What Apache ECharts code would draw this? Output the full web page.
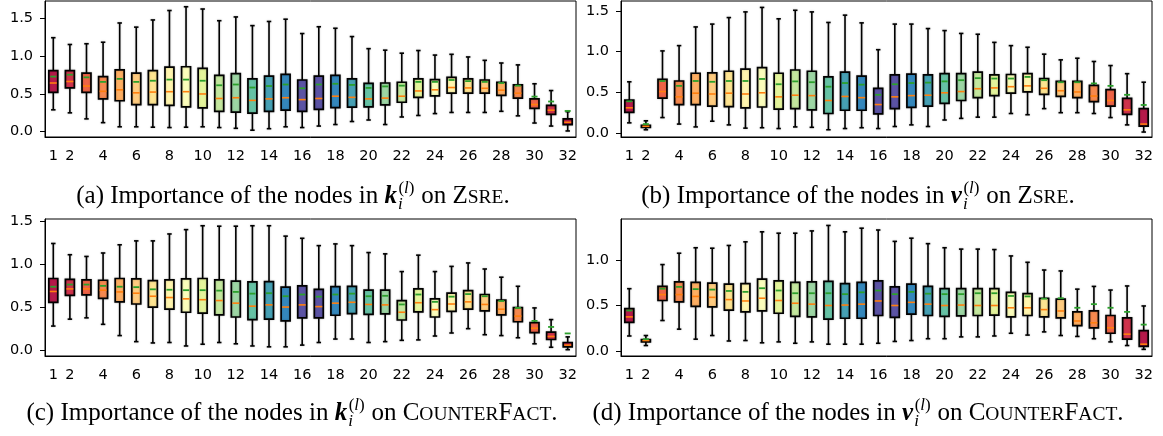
<!DOCTYPE html>
<html>
<head>
<meta charset="utf-8">
<script src="https://cdn.jsdelivr.net/npm/echarts@6.0.0/dist/echarts.min.js"></script>
<style>
  html, body { margin: 0; padding: 0; background: #fff; }
  #chart { width: 1163px; height: 436px; }
</style>
</head>
<body>
<div id="chart"></div>
<script>
// layer index on the x axis
const layers = Array.from({ length: 32 }, (_, i) => String(i + 1));
const yTicksA = [0, 0.5, 1.0, 1.5];
const yTicksD = [0, 0.5, 1.0];

// each row: [lower whisker, Q1, median, Q3, upper whisker, mean]
const kZsre = [
  [0.29, 0.52, 0.645, 0.81, 1.245, 0.73],
  [0.25, 0.58, 0.665, 0.81, 1.155, 0.755],
  [0.17, 0.52, 0.605, 0.775, 1.165, 0.72],
  [0.12, 0.435, 0.535, 0.73, 1.185, 0.66],
  [0.065, 0.41, 0.555, 0.82, 1.44, 0.70],
  [0.065, 0.36, 0.515, 0.775, 1.385, 0.66],
  [0.06, 0.36, 0.525, 0.81, 1.48, 0.675],
  [0.055, 0.35, 0.53, 0.855, 1.605, 0.69],
  [0.06, 0.33, 0.53, 0.86, 1.655, 0.69],
  [0.065, 0.315, 0.50, 0.84, 1.625, 0.675],
  [0.055, 0.27, 0.44, 0.745, 1.47, 0.615],
  [0.045, 0.26, 0.45, 0.77, 1.52, 0.625],
  [0.02, 0.245, 0.415, 0.70, 1.405, 0.585],
  [0.04, 0.27, 0.435, 0.735, 1.46, 0.605],
  [0.065, 0.285, 0.45, 0.76, 1.49, 0.625],
  [0.055, 0.27, 0.425, 0.685, 1.30, 0.575],
  [0.075, 0.295, 0.44, 0.735, 1.39, 0.625],
  [0.095, 0.32, 0.47, 0.745, 1.37, 0.635],
  [0.135, 0.325, 0.455, 0.70, 1.26, 0.62],
  [0.155, 0.33, 0.435, 0.64, 1.10, 0.58],
  [0.095, 0.355, 0.445, 0.645, 1.08, 0.60],
  [0.195, 0.39, 0.47, 0.655, 1.04, 0.61],
  [0.215, 0.455, 0.54, 0.70, 1.075, 0.66],
  [0.24, 0.475, 0.555, 0.69, 1.015, 0.66],
  [0.255, 0.51, 0.585, 0.72, 1.025, 0.685],
  [0.255, 0.51, 0.58, 0.70, 0.99, 0.67],
  [0.255, 0.51, 0.575, 0.685, 0.945, 0.66],
  [0.27, 0.48, 0.55, 0.655, 0.91, 0.645],
  [0.21, 0.445, 0.51, 0.62, 0.885, 0.61],
  [0.115, 0.31, 0.36, 0.435, 0.635, 0.465],
  [0.075, 0.23, 0.285, 0.35, 0.545, 0.40],
  [0.01, 0.095, 0.125, 0.17, 0.265, 0.275]
];

const vZsre = [
  [0.125, 0.255, 0.31, 0.405, 0.63, 0.39],
  [0.04, 0.068, 0.083, 0.095, 0.15, 0.11],
  [0.19, 0.43, 0.51, 0.66, 1.01, 0.64],
  [0.11, 0.35, 0.445, 0.64, 1.075, 0.58],
  [0.075, 0.35, 0.49, 0.735, 1.305, 0.64],
  [0.145, 0.33, 0.48, 0.74, 1.34, 0.63],
  [0.10, 0.325, 0.49, 0.76, 1.42, 0.64],
  [0.06, 0.31, 0.48, 0.785, 1.49, 0.64],
  [0.065, 0.32, 0.495, 0.805, 1.545, 0.665],
  [0.055, 0.295, 0.445, 0.735, 1.405, 0.60],
  [0.075, 0.30, 0.465, 0.775, 1.51, 0.635],
  [0.07, 0.285, 0.46, 0.76, 1.49, 0.625],
  [0.04, 0.24, 0.40, 0.69, 1.36, 0.57],
  [0.055, 0.28, 0.45, 0.75, 1.45, 0.615],
  [0.065, 0.28, 0.435, 0.70, 1.355, 0.595],
  [0.055, 0.235, 0.35, 0.55, 1.025, 0.47],
  [0.08, 0.30, 0.445, 0.715, 1.34, 0.60],
  [0.10, 0.315, 0.46, 0.725, 1.34, 0.615],
  [0.08, 0.33, 0.465, 0.715, 1.285, 0.62],
  [0.16, 0.365, 0.495, 0.73, 1.26, 0.635],
  [0.18, 0.40, 0.51, 0.73, 1.225, 0.65],
  [0.195, 0.435, 0.545, 0.75, 1.215, 0.675],
  [0.195, 0.46, 0.555, 0.715, 1.115, 0.67],
  [0.24, 0.49, 0.57, 0.72, 1.075, 0.67],
  [0.225, 0.505, 0.58, 0.73, 1.055, 0.69],
  [0.30, 0.475, 0.55, 0.67, 0.97, 0.65],
  [0.25, 0.45, 0.52, 0.635, 0.90, 0.625],
  [0.25, 0.435, 0.505, 0.635, 0.92, 0.625],
  [0.24, 0.385, 0.455, 0.585, 0.88, 0.61],
  [0.19, 0.33, 0.40, 0.535, 0.83, 0.58],
  [0.10, 0.23, 0.285, 0.425, 0.73, 0.47],
  [0.012, 0.085, 0.11, 0.30, 0.625, 0.345]
];

const kCf = [
  [0.285, 0.56, 0.685, 0.835, 1.24, 0.74],
  [0.365, 0.64, 0.715, 0.825, 1.11, 0.765],
  [0.38, 0.645, 0.715, 0.82, 1.09, 0.765],
  [0.305, 0.605, 0.70, 0.815, 1.13, 0.75],
  [0.175, 0.565, 0.68, 0.835, 1.225, 0.74],
  [0.105, 0.54, 0.665, 0.83, 1.27, 0.735],
  [0.09, 0.505, 0.63, 0.81, 1.27, 0.71],
  [0.095, 0.48, 0.615, 0.82, 1.35, 0.705],
  [0.055, 0.445, 0.60, 0.83, 1.40, 0.70],
  [0.075, 0.435, 0.59, 0.835, 1.445, 0.70],
  [0.095, 0.415, 0.58, 0.82, 1.44, 0.695],
  [0.08, 0.39, 0.55, 0.805, 1.44, 0.68],
  [0.055, 0.36, 0.515, 0.795, 1.445, 0.66],
  [0.045, 0.365, 0.53, 0.80, 1.445, 0.665],
  [0.045, 0.345, 0.505, 0.735, 1.325, 0.63],
  [0.065, 0.38, 0.53, 0.75, 1.30, 0.65],
  [0.095, 0.38, 0.51, 0.71, 1.215, 0.625],
  [0.135, 0.41, 0.55, 0.74, 1.235, 0.65],
  [0.135, 0.43, 0.56, 0.745, 1.215, 0.66],
  [0.095, 0.42, 0.535, 0.70, 1.135, 0.63],
  [0.105, 0.425, 0.53, 0.70, 1.12, 0.635],
  [0.12, 0.355, 0.445, 0.58, 0.915, 0.535],
  [0.125, 0.45, 0.555, 0.715, 1.105, 0.65],
  [0.17, 0.39, 0.475, 0.60, 0.915, 0.565],
  [0.205, 0.455, 0.54, 0.665, 0.975, 0.625],
  [0.255, 0.48, 0.565, 0.695, 1.015, 0.655],
  [0.185, 0.46, 0.535, 0.65, 0.945, 0.63],
  [0.175, 0.415, 0.48, 0.585, 0.85, 0.575],
  [0.15, 0.335, 0.40, 0.50, 0.745, 0.495],
  [0.08, 0.21, 0.26, 0.325, 0.495, 0.345],
  [0.04, 0.13, 0.165, 0.215, 0.36, 0.275],
  [0.012, 0.045, 0.065, 0.095, 0.16, 0.20]
];

const vCf = [
  [0.165, 0.315, 0.375, 0.465, 0.685, 0.445],
  [0.06, 0.10, 0.115, 0.125, 0.17, 0.13],
  [0.335, 0.555, 0.62, 0.71, 0.95, 0.685],
  [0.24, 0.54, 0.62, 0.76, 1.075, 0.705],
  [0.13, 0.49, 0.60, 0.755, 1.135, 0.68],
  [0.17, 0.485, 0.59, 0.745, 1.13, 0.675],
  [0.11, 0.45, 0.565, 0.735, 1.16, 0.66],
  [0.115, 0.43, 0.55, 0.74, 1.20, 0.65],
  [0.09, 0.44, 0.58, 0.79, 1.31, 0.69],
  [0.10, 0.415, 0.555, 0.77, 1.295, 0.665],
  [0.085, 0.38, 0.525, 0.755, 1.295, 0.635],
  [0.10, 0.375, 0.515, 0.76, 1.32, 0.635],
  [0.075, 0.35, 0.50, 0.765, 1.38, 0.635],
  [0.075, 0.36, 0.505, 0.74, 1.31, 0.625],
  [0.075, 0.36, 0.515, 0.755, 1.35, 0.645],
  [0.085, 0.39, 0.55, 0.77, 1.33, 0.665],
  [0.105, 0.37, 0.50, 0.705, 1.205, 0.625],
  [0.115, 0.405, 0.535, 0.735, 1.24, 0.65],
  [0.135, 0.39, 0.515, 0.71, 1.18, 0.63],
  [0.135, 0.38, 0.50, 0.685, 1.135, 0.625],
  [0.155, 0.385, 0.505, 0.685, 1.12, 0.625],
  [0.155, 0.39, 0.50, 0.685, 1.12, 0.635],
  [0.165, 0.395, 0.50, 0.685, 1.115, 0.635],
  [0.195, 0.375, 0.475, 0.645, 1.045, 0.605],
  [0.175, 0.39, 0.475, 0.63, 0.975, 0.60],
  [0.21, 0.375, 0.455, 0.58, 0.89, 0.575],
  [0.17, 0.365, 0.44, 0.57, 0.88, 0.58],
  [0.16, 0.28, 0.33, 0.43, 0.68, 0.475],
  [0.135, 0.255, 0.31, 0.44, 0.71, 0.515],
  [0.10, 0.195, 0.255, 0.39, 0.67, 0.475],
  [0.06, 0.13, 0.185, 0.365, 0.715, 0.43],
  [0.018, 0.05, 0.075, 0.225, 0.495, 0.29]
];

// spectral-like colours, mirrored around the middle layers
const palette = ['#b5194a', '#cf334c', '#ee6346', '#f6894f', '#fdae62', '#fecb7f', '#fee491', '#fff5ae',
  '#fbfdbb', '#e4f49b', '#c4e79e', '#9dd6a4', '#66c2a5', '#46a0b4', '#3487bc', '#5b53a4'];
const boxColor = i => palette[i < 16 ? i : 31 - i];

const tickFont = { fontFamily: 'DejaVu Sans', fontSize: 14.5, color: '#000' };
const halo = { shadowBlur: 2, shadowColor: 'rgba(0,0,0,0.25)' };

function renderBox(params, api) {
  const i = api.value(0);
  const yOf = k => api.coord([i, api.value(k)])[1];
  const cx = api.coord([i, api.value(3)])[0];
  const yLow = yOf(1), yQ1 = yOf(2), yMed = yOf(3), yQ3 = yOf(4), yHigh = yOf(5), yMean = yOf(6);
  const band = api.size([1, 0])[0];
  const bw = band * 0.54, cw = bw * 0.5;
  const line = (x1, y1, x2, y2, stroke, w, extra) => ({
    type: 'line', shape: { x1, y1, x2, y2 }, style: { stroke, lineWidth: w, ...extra }
  });
  return {
    type: 'group',
    children: [
      line(cx, yHigh, cx, yQ3, '#000', 1.6, halo),
      line(cx, yQ1, cx, yLow, '#000', 1.6, halo),
      line(cx - cw / 2, yHigh, cx + cw / 2, yHigh, '#000', 1.6, halo),
      line(cx - cw / 2, yLow, cx + cw / 2, yLow, '#000', 1.6, halo),
      {
        type: 'rect',
        shape: { x: cx - bw / 2, y: yQ3, width: bw, height: yQ1 - yQ3 },
        style: { fill: boxColor(i), stroke: '#000', lineWidth: 1.7, ...halo }
      },
      line(cx - bw / 2 + 1, yMed, cx + bw / 2 - 1, yMed, '#ff7f0e', 1.6),
      line(cx - 3, yMean, cx + 3, yMean, '#2ca02c', 1.8)
    ]
  };
}

const panels = [
  { rows: kZsre, grid: { left: 45, top: 1, width: 531, height: 136 }, min: -0.070, max: 1.731, ticks: yTicksA },
  { rows: vZsre, grid: { left: 621, top: 1, width: 531, height: 136 }, min: -0.049, max: 1.624, ticks: yTicksA },
  { rows: kCf, grid: { left: 45, top: 219, width: 531, height: 137 }, min: -0.061, max: 1.523, ticks: yTicksA },
  { rows: vCf, grid: { left: 621, top: 219, width: 531, height: 137 }, min: -0.055, max: 1.451, ticks: yTicksD }
];

// captions: pieces laid out left to right with measured widths
const measureCtx = document.createElement('canvas').getContext('2d');
function fontStr(p) {
  return `${p.italic ? 'italic ' : ''}${p.bold ? 'bold ' : ''}${p.size}px "Liberation Serif"`;
}
function textW(p) {
  measureCtx.font = fontStr(p);
  return measureCtx.measureText(p.text).width;
}
const capSize = 25, scriptSize = 17, scSize = 19.5;
function captionPieces(label, sym, nameParts) {
  const pieces = [
    { text: '(' + label + ') Importance of the nodes in ', size: capSize },
    { text: sym, size: capSize, italic: true, bold: true },
    { script: true },
    { text: ' on ', size: capSize }
  ];
  nameParts.forEach(([t, sc]) => pieces.push({ text: t, size: sc ? scSize : capSize }));
  pieces.push({ text: '.', size: capSize });
  return pieces;
}
function caption(cx, baseline, pieces) {
  const supParts = [
    { text: '(', size: scriptSize },
    { text: 'l', size: scriptSize, italic: true },
    { text: ')', size: scriptSize }
  ];
  const sub = { text: 'i', size: scriptSize, italic: true };
  const supW = supParts.reduce((s, p) => s + textW(p), 0);
  const scriptW = Math.max(supW, textW(sub)) + 2;
  const total = pieces.reduce((s, p) => s + (p.script ? scriptW : textW(p)), 0);
  let x = cx - total / 2;
  const out = [];
  const put = (p, px, base) => out.push({
    type: 'text', x: px, y: base - 0.3 * p.size,
    style: { text: p.text, font: fontStr(p), fill: '#000', align: 'left', verticalAlign: 'middle' }
  });
  pieces.forEach(p => {
    if (p.script) {
      let sx = x + 1.5;
      supParts.forEach(sp => { put(sp, sx, baseline - 10); sx += textW(sp); });
      put(sub, x + 1, baseline + 6);
      x += scriptW;
    } else {
      put(p, x, baseline);
      x += textW(p);
    }
  });
  return out;
}

const graphics = [].concat(
  caption(293, 204, captionPieces('a', 'k', [['Z', false], ['SRE', true]])),
  caption(858, 204, captionPieces('b', 'v', [['Z', false], ['SRE', true]])),
  caption(292, 421, captionPieces('c', 'k', [['C', false], ['OUNTER', true], ['F', false], ['ACT', true]])),
  caption(858, 421, captionPieces('d', 'v', [['C', false], ['OUNTER', true], ['F', false], ['ACT', true]]))
);

const option = {
  backgroundColor: '#fff',
  animation: false,
  grid: panels.map(p => ({ ...p.grid, show: true, borderColor: '#000', borderWidth: 1, backgroundColor: 'transparent' })),
  xAxis: panels.map((p, k) => ({
    type: 'category',
    gridIndex: k,
    data: layers,
    boundaryGap: true,
    axisLine: { onZero: false, lineStyle: { color: '#000', width: 1 } },
    axisTick: { alignWithLabel: true, interval: 0, length: 5, lineStyle: { color: '#000', width: 1 } },
    axisLabel: { ...tickFont, margin: 12, interval: idx => idx === 0 || idx % 2 === 1 },
    splitLine: { show: false }
  })),
  yAxis: panels.map((p, k) => ({
    type: 'value',
    gridIndex: k,
    min: p.min,
    max: p.max,
    axisLine: { show: true, onZero: false, lineStyle: { color: '#000', width: 1 } },
    axisTick: { show: true, length: 5, customValues: p.ticks, lineStyle: { color: '#000', width: 1 } },
    axisLabel: { ...tickFont, margin: 12, customValues: p.ticks, formatter: v => v.toFixed(1) },
    splitLine: { show: false }
  })),
  series: panels.map((p, k) => ({
    type: 'custom',
    xAxisIndex: k,
    yAxisIndex: k,
    renderItem: renderBox,
    encode: { x: 0, y: [1, 2, 3, 4, 5, 6] },
    data: p.rows.map((r, i) => [i, ...r])
  })),
  graphic: graphics
};

const chart = echarts.init(document.getElementById('chart'), null, { renderer: 'canvas' });
chart.setOption(option);
</script>
</body>
</html>
